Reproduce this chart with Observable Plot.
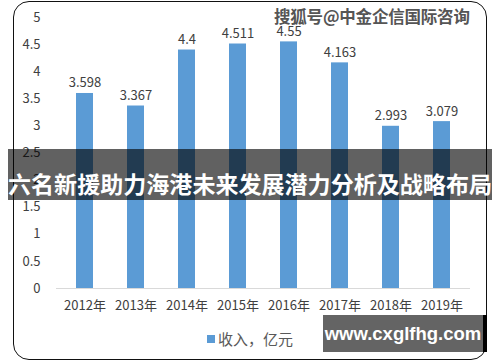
<!DOCTYPE html>
<html><head><meta charset="utf-8">
<script src="https://cdn.jsdelivr.net/npm/d3@7"></script>
<script src="https://cdn.jsdelivr.net/npm/@observablehq/plot@0.6"></script>
<style>
body{margin:0;background:#fff;}
#wrap{position:relative;width:500px;height:362px;overflow:hidden;font-family:"Noto Sans CJK SC","Noto Sans",sans-serif;background:#fff;}
#wrap svg{position:absolute;left:0;top:0;}
.frame{position:absolute;left:13px;top:1px;width:474px;height:359px;border:1.5px solid #111;border-radius:16px;box-sizing:border-box;}
.legend{position:absolute;left:207px;top:328px;font-size:15px;color:#595959;display:flex;align-items:center;gap:3px;}
.legend .sw{width:8px;height:8px;background:#5b9bd5;display:inline-block;}
.wm{position:absolute;left:274px;top:4px;font-size:16.5px;font-weight:bold;color:#555;letter-spacing:-0.2px;
 text-shadow:-1px -1px 0 #fff,1px -1px 0 #fff,-1px 1px 0 #fff,1px 1px 0 #fff;white-space:nowrap;}
.band{position:absolute;left:8px;top:149px;width:484px;height:51px;background:rgba(0,0,0,0.62);}
.bandtext{position:absolute;left:8px;top:167px;font-size:24px;font-weight:bold;color:#fff;white-space:nowrap;line-height:32px;transform-origin:0 50%;}
.url{position:absolute;left:323px;top:315px;width:164px;height:37px;background:#646464;border-right:4px solid #000;box-sizing:border-box;
 color:#fff;font-family:"Liberation Sans",Arial,sans-serif;font-weight:bold;font-size:18.5px;line-height:37px;text-align:center;white-space:nowrap;}
</style></head><body><div id="wrap"></div>
<script>
const years = ["2012年","2013年","2014年","2015年","2016年","2017年","2018年","2019年"];
const revenue = [3.598, 3.367, 4.4, 4.511, 4.55, 4.163, 2.993, 3.079];
const valueLabels = ["3.598","3.367","4.4","4.511","4.55","4.163","2.993","3.079"];
const yTicks = [0,0.5,1,1.5,2,2.5,3,3.5,4,4.5,5];
const seriesName = "收入，亿元";
const title = "六名新援助力海港未来发展潜力分析及战略布局";
const watermark = "搜狐号@中金企信国际咨询";
const site = "www.cxglfhg.com";

const data = years.map((y, i) => ({year: y, value: revenue[i], label: valueLabels[i]}));

const chart = Plot.plot({
  width: 500, height: 362,
  marginLeft: 56, marginRight: 30, marginTop: 17, marginBottom: 74,
  style: {fontFamily: '"Noto Sans CJK SC","Noto Sans",sans-serif', fontSize: "13px", color: "#404040", background: "transparent"},
  x: {domain: years, paddingInner: 0.67, paddingOuter: 0.335, label: null},
  y: {domain: [0, 5], label: null},
  marks: [
    Plot.axisY({ticks: yTicks, tickSize: 0, tickPadding: 16, tickFormat: d => String(d), fontSize: 13, label: null}),
    Plot.axisX({tickSize: 0, tickPadding: 12, fontSize: 13, label: null}),
    Plot.ruleY([0], {stroke: "#d9d9d9", strokeWidth: 1}),
    Plot.barY(data, {x: "year", y: "value", fill: "#5b9bd5"}),
    Plot.text(data, {x: "year", y: "value", text: "label", lineAnchor: "bottom", dy: -6, fontSize: 13, fill: "#404040"})
  ]
});

const wrap = document.getElementById("wrap");
wrap.appendChild(chart);
const add = (cls, html) => { const d = document.createElement("div"); d.className = cls; d.innerHTML = html; wrap.appendChild(d); return d; };
add("frame", "");
const lg = add("legend", "");
const sw = document.createElement("span"); sw.className = "sw"; lg.appendChild(sw);
const lt = document.createElement("span"); lt.textContent = seriesName; lg.appendChild(lt);
add("wm", "").textContent = watermark;
add("band", "");
const bt = add("bandtext", "");
bt.textContent = title;
const w = bt.getBoundingClientRect().width;
if (w > 0) bt.style.fontSize = (24 * 484 / w).toFixed(2) + "px";
add("url", "").textContent = site;
</script>
</body></html>
